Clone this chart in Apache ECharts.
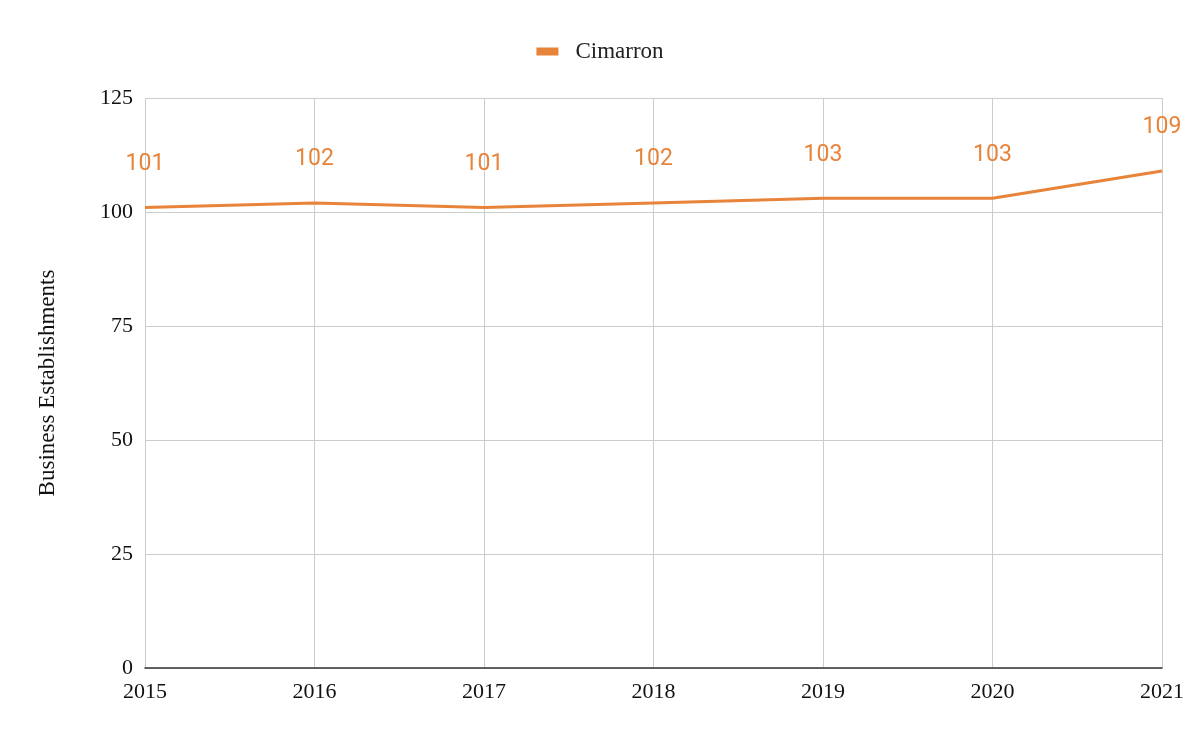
<!DOCTYPE html>
<html><head><meta charset="utf-8">
<script src="https://cdn.jsdelivr.net/npm/echarts@6/dist/echarts.min.js"></script>
<style>html,body{margin:0;padding:0;background:#fff}#c{width:1200px;height:742px}</style>
</head><body><div id="c"></div>
<script>
const years = ['2015','2016','2017','2018','2019','2020','2021'];
const cimarron = [101,102,101,102,103,103,109];
const yTicks = [0,25,50,75,100,125];
const serif = '"Liberation Serif", "Times New Roman", serif';
const chart = echarts.init(document.getElementById('c'));
chart.setOption({
  animation:false,
  legend:{top:35,left:'center',itemWidth:22,itemHeight:8,icon:'rect',itemGap:10,
    textStyle:{fontFamily:serif,fontSize:23,color:'#222',padding:[0,0,0,12]},data:['Cimarron']},
  grid:{left:145,right:38,top:98,bottom:74},
  xAxis:{type:'category',data:years,boundaryGap:false,
    axisLine:{lineStyle:{color:'#333',width:1.5}},axisTick:{show:false},
    axisLabel:{fontFamily:serif,fontSize:22,color:'#111',margin:13},
    splitLine:{show:true,lineStyle:{color:'#ccc',width:1}}},
  yAxis:{type:'value',min:yTicks[0],max:yTicks[yTicks.length-1],interval:25,
    name:'Business Establishments',nameLocation:'middle',nameGap:86,
    nameTextStyle:{fontFamily:serif,fontSize:23,color:'#111'},
    axisLine:{show:false},axisTick:{show:false},
    axisLabel:{fontFamily:serif,fontSize:22,color:'#111',margin:12},
    splitLine:{lineStyle:{color:'#ccc',width:1}}},
  series:[{name:'Cimarron',type:'line',data:cimarron,color:'#E8833A',
    lineStyle:{width:3},symbol:'circle',symbolSize:0,showSymbol:true,
    label:{show:true,position:'top',distance:32,fontFamily:'Roboto',fontSize:23,color:'#E8833A'}}]
});
</script></body></html>
